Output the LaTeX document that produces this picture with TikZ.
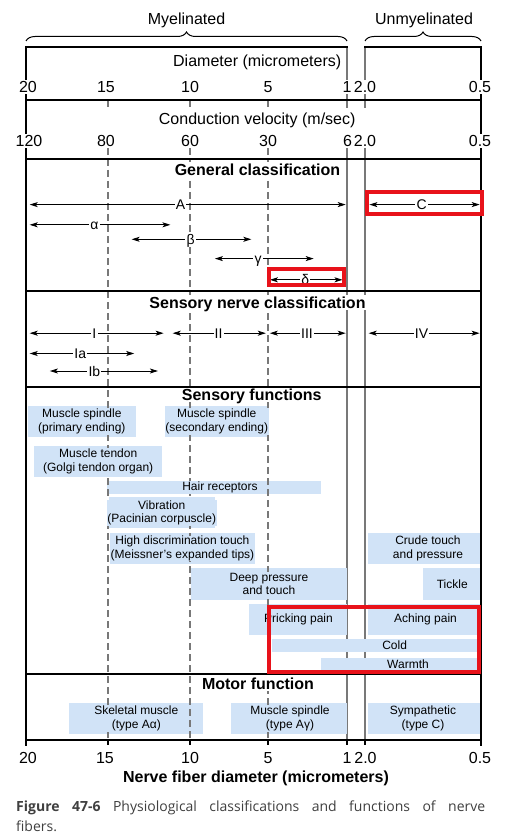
\documentclass[tikz,border=0pt]{standalone}
\usepackage{fontspec}
\setmainfont{Liberation Sans}
\newfontfamily\capfont{Open Sans}
\usetikzlibrary{arrows.meta}
\usetikzlibrary{decorations.pathreplacing}
\usetikzlibrary{backgrounds}

\begin{document}
\begin{tikzpicture}[x=1pt,y=-1pt,
  rimline/.style={draw=black,line width=1.9pt,line cap=rect},
  splitline/.style={draw=lineColor,line width=1.5pt},
  guideline/.style={draw=lineColor,line width=1.3pt,dash pattern=on 7pt off 4pt},
  spanarrow/.style={draw=black,line width=0.9pt,{Stealth[length=8pt,width=5pt,inset=2pt]}-{Stealth[length=8pt,width=5pt,inset=2pt]}},
  spanlab/.style={fill=white,inner sep=1.2pt,text height=10pt,text depth=0pt,font=\fontsize{14}{16}\selectfont},
  axlab/.style={fill=white,inner sep=0.8pt,text height=11.5pt,text depth=0pt,font=\fontsize{16}{18}\selectfont},
  axtitle/.style={inner sep=0pt,text height=11.5pt,text depth=0pt,font=\fontsize{16}{18}\selectfont},
  sechead/.style={fill=white,inner sep=1.5pt,text height=11.5pt,text depth=0pt,font=\fontsize{16}{18}\selectfont\bfseries},
  fnbox/.style={fill=boxColor},
  fntext/.style={fill=boxColor,inner sep=0.5pt,align=center,font=\fontsize{12}{13.8}\selectfont},
  hilite/.style={draw=hiColor,line width=4pt}]
\definecolor{lineColor}{gray}{0.47}
\definecolor{boxColor}{RGB}{209,227,247}
\definecolor{hiColor}{RGB}{232,18,26}
\definecolor{capColor}{RGB}{64,64,64}

\useasboundingbox (0,0) rectangle (528,837);

\begin{scope}[on background layer]
\path[fill=white] (0,0) rectangle (528,837);
\foreach \x in {347,365} {
  \path[splitline] (\x,47) -- (\x,108);
  \path[splitline] (\x,148) -- (\x,740);
}
\path[fnbox] ( 27.7,406.2) rectangle (135.9,437.3);
\path[fnbox] (164.6,406.2) rectangle (268.8,437.3);
\path[fnbox] ( 34.4,445.7) rectangle (161.9,476.7);
\path[fnbox] (107.3,481.1) rectangle (321.1,494.0);
\path[fnbox] (108.6,497.3) rectangle (214.9,528.4);
\path[fnbox] (109.6,533.4) rectangle (255.3,563.7);
\path[fnbox] (367.7,533.4) rectangle (481.0,563.7);
\path[fnbox] (190.6,568.1) rectangle (347.4,599.8);
\path[fnbox] (422.6,568.1) rectangle (481.0,599.8);
\path[fnbox] (248.6,604.2) rectangle (347.4,634.6);
\path[fnbox] (367.7,604.2) rectangle (481.0,634.6);
\path[fnbox] (271.5,639.0) rectangle (477.3,652.1);
\path[fnbox] (321.4,657.5) rectangle (477.3,671.0);
\path[fnbox] ( 69.2,703.0) rectangle (203.0,734.0);
\path[fnbox] (231.4,703.0) rectangle (347.4,734.0);
\path[fnbox] (367.7,703.0) rectangle (481.0,734.0);
\end{scope}

\foreach \x in {108,190,268} {
  \path[guideline] (\x,100) -- (\x,108);
  \path[guideline] (\x,148) -- (\x,740);
}

\node[fntext] (spindleP) at ( 81.8,421.7) {Muscle spindle\\(primary ending)};
\node[fntext] (spindleS) at (216.7,421.7) {Muscle spindle\\(secondary ending)};
\node[fntext] (tendon) at ( 98.2,461.2) {Muscle tendon\\(Golgi tendon organ)};
\node[fntext] (hair) at (220.0,487.5) {Hair receptors};
\node[fntext] (vibration) at (161.7,512.8) {Vibration\\(Pacinian corpuscle)};
\node[fntext] (fineTouch) at (182.4,548.5) {High discrimination touch\\(Meissner's expanded tips)};
\node[fntext] (crudeTouch) at (428.0,548.5) {Crude touch\\and pressure};
\node[fntext] (deepPress) at (269.0,584.0) {Deep pressure\\and touch};
\node[fntext] (tickle) at (452.3,584.0) {Tickle};
\node[fntext] (prickPain) at (298.5,619.4) {Pricking pain};
\node[fntext] (achePain) at (425.5,619.4) {Aching pain};
\node[fntext] (cold) at (394.6,645.5) {Cold};
\node[fntext] (warmth) at (408.0,664.2) {Warmth};
\node[fntext] (skeletal) at (136.3,718.5) {Skeletal muscle\\(type Aα)};
\node[fntext] (spindleM) at (290.0,718.5) {Muscle spindle\\(type Aγ)};
\node[fntext] (sympath) at (423.0,718.5) {Sympathetic\\(type C)};

\node[sechead] (genHead) at (257.5,169.5) {General classification};
\node[sechead] (nerveHead) at (257.5,302.5) {Sensory nerve classification};
\node[sechead] (sensHead) at (251.7,395.1) {Sensory functions};
\node[sechead] (motorHead) at (258.0,683.5) {Motor function};

\node[axtitle] (myelin) at (186.5,19) {Myelinated};
\node[axtitle] (unmyelin) at (424.0,19) {Unmyelinated};
\node[axtitle] (diaTitle) at (257.2,60.7) {Diameter (micrometers)};
\node[axtitle] (velTitle) at (257.2,118.7) {Conduction velocity (m/sec)};
\node[axtitle,font=\fontsize{16}{18}\selectfont\bfseries] (fiberTitle) at (256.0,777.0) {Nerve fiber diameter (micrometers)};

\path[draw=black,line width=1pt,decorate,decoration={brace,amplitude=9pt}] (26,41) -- (347,41);
\path[draw=black,line width=1pt,decorate,decoration={brace,amplitude=9pt}] (365,41) -- (481,41);

\path[rimline] (26,47) -- (347,47);
\path[rimline] (365,47) -- (481,47);
\foreach \y in {100,159,291,387,674,740}
  \path[rimline] (26,\y) -- (481,\y);
\path[rimline] (26,47) -- (26,745);
\path[rimline] (481,47) -- (481,745);
\foreach \x in {108,190,268,347,365}
  \path[draw=black,line width=1.5pt] (\x,740) -- (\x,745);

\foreach \x/\t [count=\i] in {28/20,106/15,190/10,268/5,347/1,365/2.0,480/0.5}
  \node[axlab] (diaTop\i) at (\x,87) {\t};
\foreach \x/\t [count=\i] in {29/120,106/80,190/60,268/30,347.5/6,365/2.0,480/0.5}
  \node[axlab] (vel\i) at (\x,141) {\t};
\foreach \x/\t [count=\i] in {28/20,105/15,190/10,268/5,347/1,365.5/2.0,480/0.5}
  \node[axlab] (diaBot\i) at (\x,757.5) {\t};

\path[spanarrow] ( 29.7,204.6) -- (345.7,204.6);
\node[spanlab] (clsA) at (180.5,204.6) {A};
\path[spanarrow] (369.4,204.6) -- (479.7,204.6);
\node[spanlab] (clsC) at (421.6,204.6) {C};
\path[spanarrow] ( 29.7,224.8) -- (170.4,224.8);
\node[spanlab] (clsAlpha) at ( 94.4,224.8) {α};
\path[spanarrow] (131.6,239.3) -- (251.3,239.3);
\node[spanlab] (clsBeta) at (190.6,239.3) {β};
\path[spanarrow] (214.9,258.6) -- (313.7,258.6);
\node[spanlab] (clsGamma) at (258.0,258.6) {γ};
\path[spanarrow] (269.9,279.8) -- (342.5,279.8);
\node[spanlab] (clsDelta) at (305.3,279.8) {δ};

\path[spanarrow] ( 29.7,333.2) -- (163.6,333.2);
\node[spanlab] (grpI) at ( 94.4,333.2) {I};
\path[spanarrow] (172.7,333.2) -- (265.8,333.2);
\node[spanlab] (grpII) at (218.6,333.2) {II};
\path[spanarrow] (269.8,333.2) -- (345.7,333.2);
\node[spanlab] (grpIII) at (307.0,333.2) {III};
\path[spanarrow] (368.7,333.2) -- (479.6,333.2);
\node[spanlab] (grpIV) at (421.6,333.2) {IV};
\path[spanarrow] ( 29.7,353.5) -- (134.2,353.5);
\node[spanlab] (grpIa) at ( 80.3,353.5) {Ia};
\path[spanarrow] ( 49.9,371.0) -- (157.9,371.0);
\node[spanlab] (grpIb) at ( 94.4,371.0) {Ib};

\path[hilite] (367.3,191.7) rectangle (482.0,213.7);
\path[hilite] (268.5,269.3) rectangle (343.7,285.2);
\path[hilite] (269.0,607.0) rectangle (478.6,672.3);

\node[anchor=north west,text width=469pt,align=justify,inner sep=0pt,
  font=\capfont\fontsize{14}{20}\selectfont,text=capColor] (caption) at (16,800.5)
  {\textbf{Figure 47-6} Physiological classifications and functions of nerve\linebreak fibers.};
\end{tikzpicture}
\end{document}
